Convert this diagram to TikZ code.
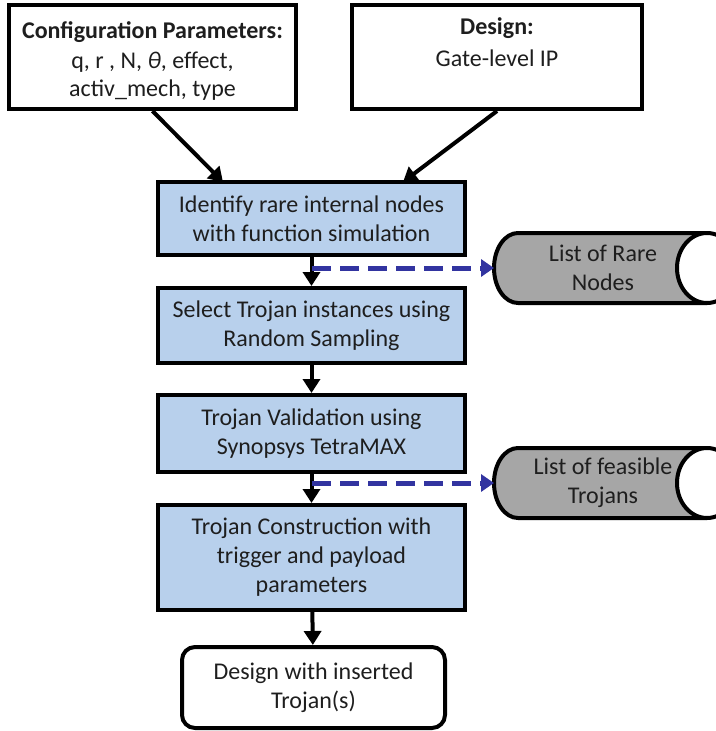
\documentclass[tikz,border=0pt]{standalone}
\usepackage{fontspec}
\setmainfont{Carlito}
\usetikzlibrary{arrows.meta}
\definecolor{stepblue}{RGB}{184,208,236}
\definecolor{drumgray}{RGB}{166,166,166}
\definecolor{flowblue}{RGB}{50,52,160}
\definecolor{ink}{RGB}{30,30,30}
\begin{document}
\begin{tikzpicture}[x=1pt,y=-1pt,
  every node/.style={font=\fontsize{24}{29}\selectfont, text=ink, align=center, inner sep=0pt},
  inbox/.style={draw=black, line width=4pt, fill=white, minimum width=287pt, minimum height=104pt},
  stepbox/.style={draw=black, line width=4pt, fill=stepblue, minimum width=307pt},
  endbox/.style={draw=black, line width=4pt, fill=white, rounded corners=13pt, minimum width=263pt, minimum height=81pt},
  flow/.style={line width=4pt, -{Triangle[length=14pt,width=17pt]}},
  side/.style={draw=flowblue, line width=5pt, dash pattern=on 19pt off 9pt, -{Triangle[length=13pt,width=17pt]}},
]
\useasboundingbox (0,0) rectangle (715,731);

% input boxes
\node[inbox] (cfg) at (152.5,57) {};
\node at (152.5,32) {\textbf{Configuration Parameters:}};
\node at (152.5,62) {q, r , N, \textit{θ}, effect,};
\node at (152.5,90) {activ\_mech, type};

\node[inbox, minimum width=290pt] (dsn) at (497,57) {};
\node at (497,28) {\textbf{Design:}};
\node at (497,58) {Gate-level IP};

% main flow
\node[stepbox, minimum height=73pt] (s1) at (311.5,218.5) {Identify rare internal nodes\\with function simulation};
\node[stepbox, minimum height=75pt] (s2) at (311.5,325.5) {Select Trojan instances using\\Random Sampling};
\node[stepbox, minimum height=77pt] (s3) at (311.5,433.5) {Trojan Validation using\\Synopsys TetraMAX};
\node[stepbox, minimum height=105pt] (s4) at (311.5,557.5) {Trojan Construction with\\trigger and payload\\parameters};
\node[endbox] (out) at (313.5,687.5) {Design with inserted\\Trojan(s)};

\draw[flow] (cfg.south) -- (223,182) coordinate (s1a);
\draw[flow] (dsn.south) -- (403,182) coordinate (s1b);
\draw[flow] (s1) -- (s2);
\draw[flow] (s2) -- (s3);
\draw[flow] (s3) -- (s4);
\draw[flow] (s4) -- (out);

% storage drums (y axis points down, so 270 is the top of an ellipse)
\foreach \nm/\cy/\txt in {r1/268/{List of Rare\\Nodes}, r2/483/{List of feasible\\Trojans}} {
  \fill[drumgray] (518,\cy-35) -- (707,\cy-35) arc[start angle=270, end angle=90, x radius=30, y radius=35]
     -- (518,\cy+35) arc[start angle=90, end angle=270, x radius=24, y radius=35] -- cycle;
  \draw[line width=4pt] (707,\cy-35) -- (518,\cy-35) arc[start angle=270, end angle=90, x radius=24, y radius=35] -- (707,\cy+35);
  \draw[line width=4pt, fill=white] (707,\cy) ellipse[x radius=30, y radius=35];
  \node (\nm) at (603,\cy) {\txt};
  \coordinate (\nm w) at (494,\cy);
}

\coordinate (t1) at (312,268);
\coordinate (t2) at (312,483);
\draw[side] (t1) -- (r1w);
\draw[side] (t2) -- (r2w);
\end{tikzpicture}
\end{document}
